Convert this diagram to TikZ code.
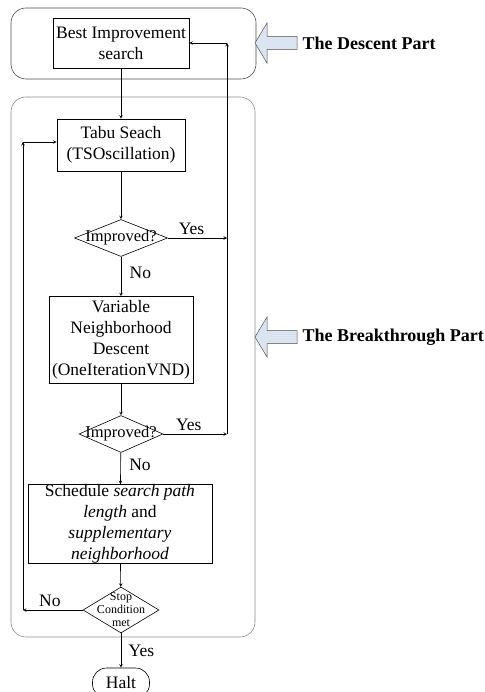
\documentclass[tikz,border=0pt]{standalone}
\usepackage{fontspec}
\setmainfont{Liberation Serif}
\usetikzlibrary{shapes.geometric}
\definecolor{arrfill}{RGB}{219,229,241}
\tikzset{
  blok/.style={draw,inner sep=0pt,align=center,font=\fontsize{17.5}{21}\selectfont},
  dcsn/.style={draw,diamond,inner sep=0pt},
  dtxt/.style={inner sep=0pt,align=center,font=\fontsize{16.5}{18}\selectfont},
  lbl/.style={font=\fontsize{17.5}{21}\selectfont},
}
\begin{document}
\begin{tikzpicture}[x=1pt,y=-1pt,>=stealth,line width=0.6pt]
	\useasboundingbox (0,0) rectangle (484,692);
	% the two parts
	\draw[rounded corners=15pt,draw=black!70] (11,8) rectangle (256,79);
	\draw[rounded corners=15pt,draw=black!45] (11,97) rectangle (255,637);
	\foreach \yy in {43,337}
		\draw[fill=arrfill,draw=black!70,line width=0.5pt] (255,\yy)--(267,\yy-20)--(267,\yy-6.5)--(297,\yy-6.5)--(297,\yy+6.5)--(267,\yy+6.5)--(267,\yy+20)--cycle;
	\node[lbl,anchor=west,font=\fontsize{18}{21}\selectfont\bfseries] (dpart) at (299,43) {The Descent Part};
	\node[lbl,anchor=west,font=\fontsize{18}{21}\selectfont\bfseries] (bpart) at (299,337) {The Breakthrough Part};
	% steps
	\node[blok,minimum width=136,minimum height=50] (best) at (121,43) {Best Improvement\\search};
	\node[blok,minimum width=128,minimum height=52] (tabu) at (121,145) {Tabu Seach\\(TSOscillation)};
	\node[dcsn,minimum width=93,minimum height=37] (dec1) at (121,238) {};
	\node[dtxt] (dec1t) at (dec1) {Improved?};
	\node[blok,minimum width=144,minimum height=87] (vnd) at (121,340) {Variable\\Neighborhood\\Descent\\(OneIterationVND)};
	\node[dcsn,minimum width=84,minimum height=37] (dec2) at (121,434) {};
	\node[dtxt] (dec2t) at (dec2) {Improved?};
	\node[blok,minimum width=184,minimum height=79] (sched) at (120,524) {Schedule \textit{search path}\\\textit{length} and\\\textit{supplementary}\\\textit{neighborhood}};
	\node[dcsn,minimum width=76,minimum height=46] (dec3) at (121,610) {};
	\node[dtxt,font=\fontsize{12}{13}\selectfont] (dec3t) at (dec3) {Stop\\Condition\\met};
	\node[blok,rounded corners=14pt,minimum width=57,minimum height=30] (halt) at (121,683) {Halt};
	% corners of the loops
	\coordinate (yes1) at (227,238);
	\coordinate (yes2) at (227,434);
	\coordinate (back) at (227,43);
	\coordinate (no1) at (23,610);
	\coordinate (no2) at (23,142);
	% connectors
	\draw[->] (best)--(tabu);
	\draw[->] (tabu)--(dec1);
	\draw[->] (dec1)--node[lbl,right,pos=0.4,xshift=5pt] (no1l) {No} (vnd);
	\draw[->] (vnd)--(dec2);
	\draw[->] (dec2)--node[lbl,right,pos=0.4,xshift=5pt] (no2l) {No} (sched);
	\draw[->] (sched)--(dec3);
	\draw[->] (dec3)--node[lbl,right,xshift=4pt] (yes3l) {Yes} (halt);
	\draw[->] (dec1.east)--node[lbl,above,pos=0.4] (yes1l) {Yes} (yes1);
	\draw[->] (dec2.east)--node[lbl,above,pos=0.4] (yes2l) {Yes} (yes2);
	\draw[->] (yes2)--(back);
	\draw[->] (back)--(best.east);
	\draw[->] (dec3.west)--node[lbl,above,pos=0.55] (no3l) {No} (no1);
	\draw[->] (no1)--(no2);
	\draw[->] (no2)--(tabu.west |- no2);
\end{tikzpicture}
\end{document}
